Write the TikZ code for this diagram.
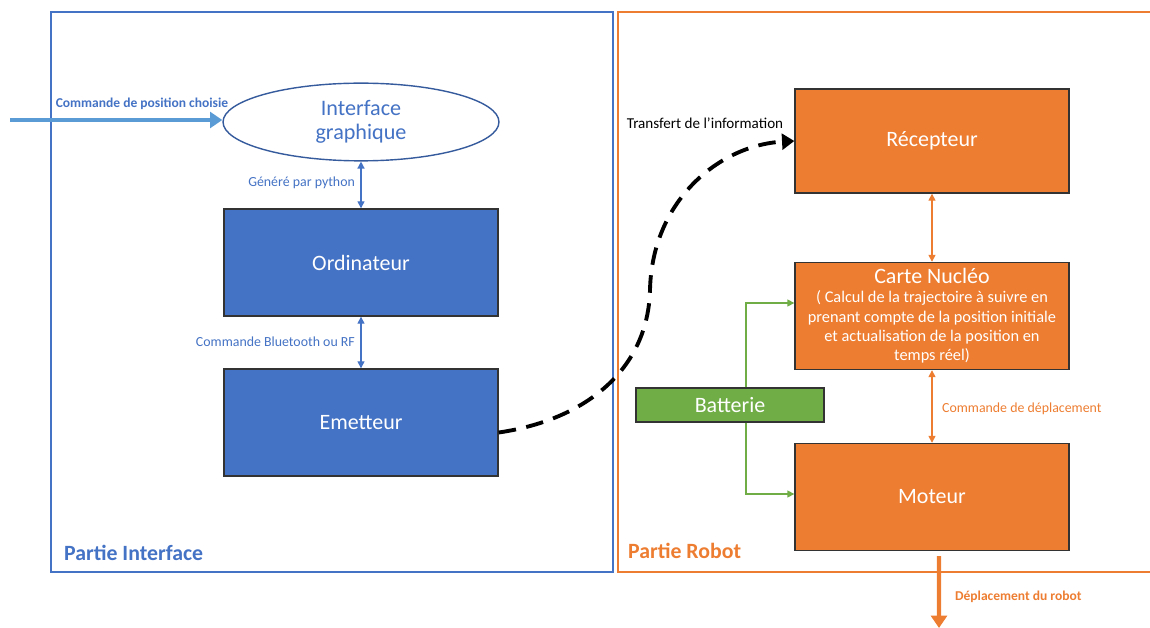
\documentclass[tikz,border=0pt]{standalone}
\usepackage{fontspec}
\setmainfont{Carlito}
\usetikzlibrary{arrows.meta, positioning, shapes.geometric}

\definecolor{bleu}{HTML}{4472C4}
\definecolor{bleuclair}{HTML}{5B9BD5}
\definecolor{orangerobot}{HTML}{ED7D31}
\definecolor{vert}{HTML}{70AD47}

\begin{document}
\begin{tikzpicture}[x=0.02cm, y=-0.02cm, >={Triangle[width=4pt,length=4pt]}]
    \tikzstyle{bloc}=[draw=black!80, line width=0.8pt, minimum width=5.48cm, minimum height=2.14cm, text=white, font=\fontsize{12.5}{14}\selectfont]
    \tikzstyle{lbl}=[inner sep=1pt, font=\fontsize{7.9}{9}\selectfont]
    \tikzstyle{cadre}=[line width=1.7pt]
    \tikzstyle{fleche}=[line width=2.3pt, -{Triangle[width=9pt,length=7pt]}]

    \useasboundingbox (0,0) rectangle (1150,628);

    % les deux parties
    \draw[cadre, bleu] (51,12) rectangle (613,572);
    \draw[cadre, orangerobot] (1150,12) -- (618,12) -- (618,572) -- (1150,572);
    \node[anchor=west, text=bleu, font=\fontsize{12.4}{14}\bfseries] (pint) at (58,553) {Partie Interface};
    \node[anchor=west, text=orangerobot, font=\fontsize{12.4}{14}\bfseries] (prob) at (622,551) {Partie Robot};

    % partie interface
    \node[ellipse, draw=bleu!80!black, line width=0.8pt, fill=white, minimum width=5.52cm, minimum height=1.4cm, align=center, text=bleu, font=\fontsize{12.6}{13.8}\selectfont] (ihm) at (361,122) {Interface\\graphique};
    \node[bloc, fill=bleu] (ord) at (361,262.5) {Ordinateur};
    \node[bloc, fill=bleu] (emet) at (361,422.5) {Emetteur};

    % partie robot
    \node[bloc, fill=orangerobot, minimum height=2.08cm] (rec) at (932,141) {Récepteur};
    \node[bloc, fill=orangerobot, align=center, inner sep=2pt, font=\fontsize{9.3}{11}\selectfont] (carte) at (932,316)
        {{\fontsize{12.5}{14}\selectfont Carte Nucléo}\\( Calcul de la trajectoire à suivre en\\prenant compte de la position initiale\\et actualisation de la position en\\temps réel)};
    \node[bloc, fill=orangerobot] (mot) at (932,497) {Moteur};
    \node[bloc, fill=vert, minimum width=3.76cm, minimum height=0.68cm] (bat) at (730,405) {Batterie};

    % entree et sortie
    \coordinate (entree) at (10,120);
    \coordinate (sortie) at (939,628);
    \draw[fleche, bleuclair] (entree) -- (entree -| ihm.west);
    \node[lbl, text=bleu, font=\fontsize{7.7}{9}\bfseries] (cmd) at (142,104) {Commande de position choisie};
    \draw[fleche, orangerobot] ([xshift=0.14cm,yshift=-0.1cm]mot.south) -- (sortie);
    \node[lbl, anchor=west, text=orangerobot, font=\fontsize{7.7}{9}\bfseries] (depl) at (953,597) {Déplacement du robot};

    % liaisons
    \draw[<->, bleu, line width=0.8pt] (ihm.south) -- (ord.north);
    \node[lbl, anchor=east, text=bleu] (gen) at (357,183) {Généré par python};
    \draw[<->, bleu, line width=0.8pt] (ord) -- (emet);
    \node[lbl, anchor=east, text=bleu] (bt) at (357,342) {Commande Bluetooth ou RF};
    \draw[<->, orangerobot, line width=0.8pt] (rec) -- (carte);
    \draw[<->, orangerobot, line width=0.8pt] (carte) -- (mot);
    \node[lbl, anchor=west, text=orangerobot] (cdep) at (940,409) {Commande de déplacement};

    % alimentation
    \draw[->, vert, line width=0.8pt] ([xshift=0.32cm]bat.north) |- ([yshift=0.26cm]carte.west);
    \draw[->, vert, line width=0.8pt] ([xshift=0.32cm]bat.south) |- ([yshift=0.06cm]mot.west);

    % transmission sans fil
    \coordinate (relais) at (650,290);
    \draw[black, line width=2.2pt, dash pattern=on 10pt off 6pt, -{Triangle[width=9pt,length=7pt]}]
        ([yshift=-0.2cm]emet.east) .. controls (585,420) and (648,370) .. (relais)
        .. controls (652,200) and (720,145) .. (rec.west);
    \node[lbl, text=black, font=\fontsize{8.6}{10}\selectfont] (transf) at (705,123) {Transfert de l’information};
\end{tikzpicture}
\end{document}
